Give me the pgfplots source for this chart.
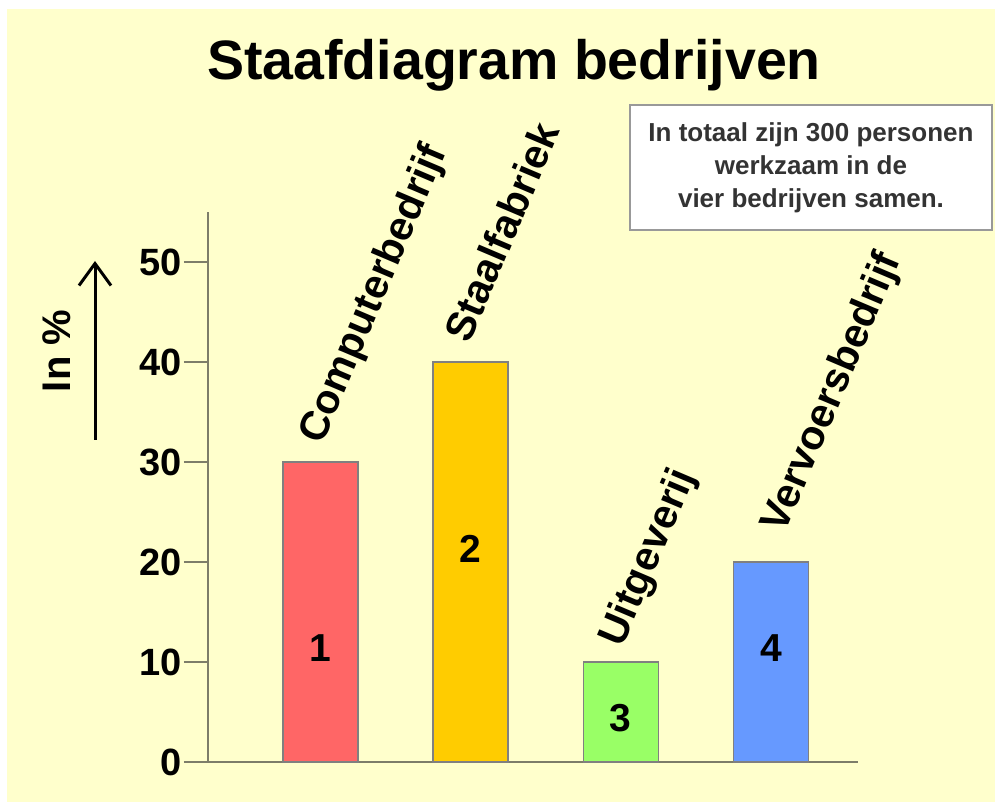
\documentclass[border=0pt]{standalone}
\usepackage{pgfplots}
\pgfplotsset{compat=1.18}
\usepackage{fontspec}
\setmainfont{Liberation Sans}
\usetikzlibrary{arrows.meta}
\definecolor{bgyellow}{RGB}{255,255,204}
\definecolor{barred}{RGB}{255,102,102}
\definecolor{bargold}{RGB}{255,204,0}
\definecolor{bargreen}{RGB}{153,255,102}
\definecolor{barblue}{RGB}{102,153,255}
\definecolor{axisgray}{RGB}{125,125,105}
\definecolor{boxtext}{RGB}{51,51,51}
\begin{document}
\begin{tikzpicture}[x=1pt,y=1pt]
\path[use as bounding box] (0,0) rectangle (995,802);
\fill[white] (0,0) rectangle (995,802);
\fill[bgyellow] (7,0) rectangle (995,793);
% title
\node[anchor=base, font=\fontsize{55.5}{60}\selectfont\bfseries, inner sep=0] at (514,722) {Staafdiagram bedrijven};
% info box
\draw[fill=white, draw=gray!80, line width=2pt] (630,697) rectangle (992,572);
\node[align=center, text=boxtext, font=\fontsize{26}{33}\selectfont\bfseries, inner sep=0] at (811,634)
  {In totaal zijn 300 personen\\werkzaam in de\\vier bedrijven samen.};
% y label and arrow
\node[rotate=90, font=\fontsize{40}{44}\selectfont\bfseries, inner sep=0] at (57,451) {In \%};
\draw[line width=3pt, -{Straight Barb[length=22pt,width=32pt,line width=3pt]}] (95,362) -- (95,541);
\begin{axis}[
  at={(208pt,40pt)}, anchor=south west,
  scale only axis, width=650pt, height=550pt,
  xmin=0.25, xmax=4.58, ymin=0, ymax=55,
  axis x line*=bottom, axis y line*=left,
  axis line style={axisgray, line width=1.5pt},
  xtick=\empty,
  ytick={0,10,20,30,40,50},
  tick align=outside,
  major tick length=24pt,
  every tick/.style={axisgray, line width=1.5pt},
  yticklabel style={font=\fontsize{38}{40}\selectfont\bfseries, inner sep=2pt},
  /pgf/number format/assume math mode=true,
  clip=false,
]
\addplot[ybar, bar width=75pt, bar shift=0pt, fill=barred, draw=gray, line width=1.5pt] coordinates {(1,30)};
\addplot[ybar, bar width=75pt, bar shift=0pt, fill=bargold, draw=gray, line width=1.5pt] coordinates {(2,40)};
\addplot[ybar, bar width=75pt, bar shift=0pt, fill=bargreen, draw=gray, line width=1.5pt] coordinates {(3,10)};
\addplot[ybar, bar width=75pt, bar shift=0pt, fill=barblue, draw=gray, line width=1.5pt] coordinates {(4,20)};
% category labels
\node[rotate=67, anchor=base west, inner sep=0, font=\fontsize{41}{44}\selectfont\bfseries] at (axis cs:1.01,31.65) {Computerbedrijf};
\node[rotate=67, anchor=base west, inner sep=0, font=\fontsize{41}{44}\selectfont\bfseries] at (axis cs:1.993,41.74) {Staalfabriek};
\node[rotate=67, anchor=base west, inner sep=0, font=\fontsize{41}{44}\selectfont\bfseries] at (axis cs:3.01,11.35) {Uitgeverij};
\node[rotate=67, anchor=base west, inner sep=0, font=\fontsize{41}{44}\selectfont\bfseries] at (axis cs:4.09,22.74) {Vervoersbedrijf};
% numbers in bars
\node[font=\fontsize{39}{40}\selectfont\bfseries, inner sep=0] at (axis cs:1,11.4) {1};
\node[font=\fontsize{39}{40}\selectfont\bfseries, inner sep=0] at (axis cs:2,21.3) {2};
\node[font=\fontsize{39}{40}\selectfont\bfseries, inner sep=0] at (axis cs:3,4.4) {3};
\node[font=\fontsize{39}{40}\selectfont\bfseries, inner sep=0] at (axis cs:4,11.4) {4};
\end{axis}
\end{tikzpicture}
\end{document}
